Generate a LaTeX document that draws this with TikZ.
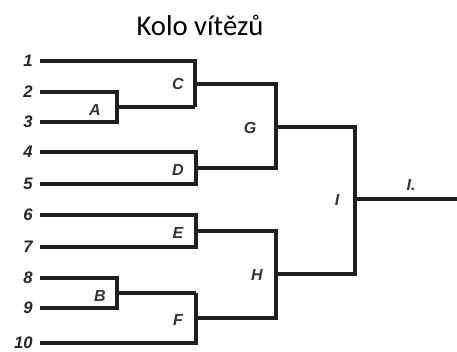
\documentclass[tikz,border=0pt]{standalone}
\usepackage{fontspec}
\setmainfont{Carlito}
\newfontfamily\lblfont{Liberation Sans}
\begin{document}
\begin{tikzpicture}[x=0.75pt,y=-0.75pt,
  br/.style={line width=2.3pt,line join=miter,line cap=butt,color=black!88},
  num/.style={font=\lblfont\bfseries\itshape\fontsize{12.5}{13}\selectfont,text=black!85,anchor=east,inner sep=0pt},
  let/.style={font=\lblfont\bfseries\itshape\fontsize{12}{13}\selectfont,text=black!80,inner sep=0pt}]
\useasboundingbox (0,0) rectangle (457,352);
% entrant line starts
\foreach \i/\y in {1/61,2/92,3/122,4/152,5/184,6/215,7/247,8/278,9/308,10/343}{
  \coordinate (p\i) at (40,\y);
  \node[num] (n\i) at (33,\y) {\i};
}
% bracket verticals
\coordinate (a2) at (117,92);  \coordinate (a3) at (117,122); \coordinate (ao) at (117,107);
\coordinate (c1) at (195,61);  \coordinate (ca) at (195,107); \coordinate (co) at (195,84);
\coordinate (d4) at (196,152); \coordinate (d5) at (196,184); \coordinate (do) at (196,168);
\coordinate (e6) at (196,215); \coordinate (e7) at (196,247); \coordinate (eo) at (196,231);
\coordinate (b8) at (117,278); \coordinate (b9) at (117,308); \coordinate (bo) at (117,293);
\coordinate (fb) at (196,293); \coordinate (f10) at (196,343); \coordinate (fo) at (196,318);
\coordinate (gc) at (276,84);  \coordinate (gd) at (276,168); \coordinate (go) at (276,127);
\coordinate (he) at (276,231); \coordinate (hf) at (276,318); \coordinate (ho) at (276,274);
\coordinate (ig) at (355,127); \coordinate (ih) at (355,274); \coordinate (io) at (355,199);
\coordinate (fin) at (457,199);
% A
\draw[br] (p2) -- (a2) -- (a3) -- (p3);
\draw[br] (ao) -- (ca);
% C
\draw[br] (p1) -- (c1) -- (ca);
% D
\draw[br] (p4) -- (d4) -- (d5) -- (p5);
% E
\draw[br] (p6) -- (e6) -- (e7) -- (p7);
% B
\draw[br] (p8) -- (b8) -- (b9) -- (p9);
\draw[br] (bo) -- (fb);
% F
\draw[br] (fb) -- (f10) -- (p10);
% G
\draw[br] (co) -- (gc) -- (gd) -- (do);
% H
\draw[br] (eo) -- (he) -- (hf) -- (fo);
% I
\draw[br] (go) -- (ig) -- (ih) -- (ho);
\draw[br] (io) -- (fin);
% labels
\node[let] (lA) at (95,110) {A};
\node[let] (lB) at (100,296) {B};
\node[let] (lC) at (178,84) {C};
\node[let] (lD) at (178,170) {D};
\node[let] (lE) at (178,233) {E};
\node[let] (lF) at (178,320) {F};
\node[let] (lG) at (250,128) {G};
\node[let] (lH) at (257,275) {H};
\node[let] (lI) at (337,200) {I};
\node[let] (lfin) at (411,185) {I.};
\node[font=\fontsize{21.5}{24}\selectfont,inner sep=0pt] (title) at (200,25) {Kolo vítězů};
\end{tikzpicture}
\end{document}
